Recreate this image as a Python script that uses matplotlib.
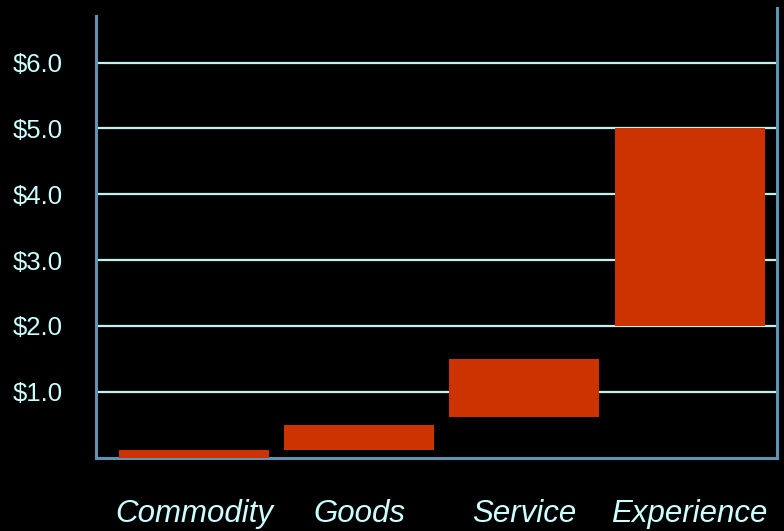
import matplotlib
matplotlib.use("Agg")
import matplotlib.pyplot as plt

# progression of economic value: low / high price per stage
stages = ["Commodity", "Goods", "Service", "Experience"]
low = [0.0, 0.12, 0.62, 2.0]
high = [0.12, 0.5, 1.5, 5.0]
yticks = [1, 2, 3, 4, 5, 6]
ytick_labels = ["$1.0", "$2.0", "$3.0", "$4.0", "$5.0", "$6.0"]

bar_color = "#CC3300"
grid_color = "#C4F0F0"
spine_color = "#5E93B5"
text_color = "#CCFFFF"

plt.rcParams['font.family'] = ['Liberation Sans', 'DejaVu Sans']

fig = plt.figure(figsize=(7.84, 5.31), dpi=100, facecolor="black")
ax = fig.add_axes([0.1224, 0.1384, 0.8686, 0.8465], facecolor="black")

x = list(range(len(stages)))
heights = [h - l for h, l in zip(high, low)]
ax.bar(x, heights, bottom=low, width=0.907, color=bar_color, zorder=3)

ax.set_xlim(-0.592, 3.528)
ax.set_ylim(0, 6.83)

ax.set_yticks(yticks)
ax.set_yticklabels(ytick_labels, color=text_color, fontsize=18.5)
ax.set_xticks(x)
ax.set_xticklabels(stages, color=text_color, fontsize=22.5, style="italic")
ax.tick_params(axis="y", length=0, pad=24)
ax.tick_params(axis="x", length=0, pad=30)

ax.yaxis.grid(True, color=grid_color, linewidth=1.6, zorder=1)
ax.set_axisbelow(True)

ax.spines["top"].set_visible(False)
for side in ["left", "right", "bottom"]:
    ax.spines[side].set_color(spine_color)
    ax.spines[side].set_linewidth(2.2)
ax.spines["left"].set_bounds(0, 6.71)

fig.savefig("out.png", dpi=100, facecolor="black")
